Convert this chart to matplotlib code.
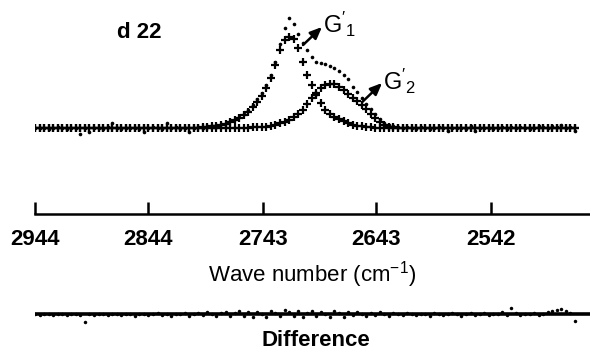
import numpy as np
import matplotlib.pyplot as plt

plt.rcParams["font.family"] = ["Liberation Sans", "DejaVu Sans"]
plt.rcParams["mathtext.fontset"] = "custom"
plt.rcParams["mathtext.rm"] = "Liberation Sans"
plt.rcParams["mathtext.it"] = "Liberation Sans"
plt.rcParams["mathtext.bf"] = "Liberation Sans:bold"

# Sampling grid of the spectrum (cm^-1), every 4 cm^-1
wave_number = np.arange(2944, 2464, -4)

# Measured spectrum (dots), arbitrary units
total = [
    0, 0.5, 0, -0.5, 0, 1, 0, -1, 0, 0.5, -6, 0, -4, 0.5, 0, -0.5, 1, 5, 0, -1,
    0, 0.5, 0, -1, -4, 0, 1, 0, -0.5, 5, 0, 1, -1, 0, -4, 0.5, 1, 0, 1.5, 2,
    3, 4, 5, 7, 9, 11, 14, 18, 23, 29, 35, 43, 53, 66, 84, 100, 110, 104, 94, 85,
    78, 71, 66, 65, 64, 62, 60, 57, 53, 49, 41, 36, 30, 24, 19, 14, 9, 5, 3, 2,
    1, 0.5, 1.5, 0, -0.5, 1, 0, -1, 0, 1.5, 0, -3, 0.5, 0, 0, -0.5, 2, -3, 0, 0.5,
    0, -0.5, 0, 1, -1, 1.5, 0, 1, 0.5, -1, 0, 2.5, 1, 0, 2, 1.5, 3, 0, 1, -3,
]

# Fitted band G'1 (crosses)
g1 = [
    0, 0, 0, 0, 0, 0, 0, 0, 0, 0, 0, 0, 0, 0, 0, 0, 0, 0, 0, 0,
    0, 0, 0, 0, 0, 0, 0, 0, 0, 0, 0, 0, 0, 0, 0, 0, 0.3, 0.6, 1.1, 1.7,
    2.4, 3.3, 4.5, 6, 8, 10, 13, 16.5, 21, 26, 32, 40, 50, 63, 78, 88, 91, 89, 80, 66,
    53, 43, 33, 25, 18, 14, 11, 9, 7, 5, 3.5, 2.5, 1.7, 1.1, 0.7, 0.4, 0.2, 0, 0, 0,
    0, 0, 0, 0, 0, 0, 0, 0, 0, 0, 0, 0, 0, 0, 0, 0, 0, 0, 0, 0,
    0, 0, 0, 0, 0, 0, 0, 0, 0, 0, 0, 0, 0, 0, 0, 0, 0, 0, 0, 0,
]

# Fitted band G'2 (crosses)
g2 = [
    0, 0, 0, 0, 0, 0, 0, 0, 0, 0, 0, 0, 0, 0, 0, 0, 0, 0, 0, 0,
    0, 0, 0, 0, 0, 0, 0, 0, 0, 0, 0, 0, 0, 0, 0, 0, 0, 0, 0, 0,
    0, 0, 0, 0, 0, 0.2, 0.3, 0.4, 0.6, 0.8, 1, 1.5, 2, 3, 5, 6.5, 8, 11, 14, 18,
    24, 30, 35, 40, 43, 44.5, 44, 41.5, 38, 34, 30.5, 27, 23.5, 19, 14, 10, 6.5, 3.5, 1.5, 0.7,
    0.3, 0, 0, 0, 0, 0, 0, 0, 0, 0, 0, 0, 0, 0, 0, 0, 0, 0, 0, 0,
    0, 0, 0, 0, 0, 0, 0, 0, 0, 0, 0, 0, 0, 0, 0, 0, 0, 0, 0, 0,
]

# Residual (measured - fit)
difference = [
    0.5, -0.5, 0, 0.5, -0.5, 0, 0.5, -1, 0, 0.5, -1, -8, 0, -0.5, 0.5, 0, -1, 0.5, 0, -1,
    0.5, 0, -1.5, 0, 0.5, -1, 0, 1, -0.5, 0, -1.5, 0.5, 0, 1, -2, 0.5, 1.5, -1, 2, 0,
    -2, 1.5, 2.5, -1.5, 1, 3, -2, 2, -2.5, 2.5, 0, -3, 3, 1, -2, 4, 2, -1.5, 3, -3,
    1.5, 3.5, -2, 2, 0.5, -2.5, 3, 1, -3, 2, -1, 2.5, 0, -2, 1.5, -1, 2, 0, -1.5, 1,
    0, -1, 1.5, 0, -1, 0.5, 0, -1.5, 1, 0, -1, 0.5, 1, 0, -1.5, 0.5, 1.5, -1, 0, 1,
    -1, 0.5, 0, 2, -0.5, 6, 1, -1, 0.5, 0, 1, -1, 0.5, 2, 3, 4, 5.5, 3, 1, -7,
]

tick_values = [2944, 2844, 2743, 2643, 2542]

fig = plt.figure(figsize=(5.9, 3.53), dpi=100)

# main spectrum panel
ax = fig.add_axes([35 / 590, (353 - 214) / 353, 555 / 590, 209 / 353])
ax.plot(wave_number, total, linestyle="none", marker="o", ms=2.6,
        color="black", mec="none")
ax.plot(wave_number, g1, linestyle="none", marker="+", ms=5.2, mew=1.6,
        color="black")
ax.plot(wave_number, g2, linestyle="none", marker="+", ms=5.2, mew=1.6,
        color="black")

ax.set_xlim(2944, 2454.7)
ax.set_ylim(-86, 123)
for side in ["left", "right", "top"]:
    ax.spines[side].set_visible(False)
ax.spines["bottom"].set_linewidth(1.8)
ax.set_yticks([])
ax.set_xticks(tick_values)
ax.set_xticklabels([str(v) for v in tick_values], fontsize=16,
                   fontweight="bold")
ax.tick_params(axis="x", direction="in", length=8.5, width=1.8, pad=11)
ax.set_xlabel(r"Wave number (cm$^{-1}$)", fontsize=16, labelpad=6)

ax.text(2872, 90, "d 22", fontsize=16, fontweight="bold")

arrow = dict(arrowstyle="-|>,head_length=0.7,head_width=0.3", color="black",
             lw=1.8, shrinkA=0, shrinkB=0)
ax.annotate("", xy=(2691, 101), xytext=(2707.7, 83), arrowprops=arrow)
ax.text(2690, 95, r"$\mathrm{G}'_1$", fontsize=17)
ax.annotate("", xy=(2638, 45), xytext=(2655.5, 26), arrowprops=arrow)
ax.text(2637, 38, r"$\mathrm{G}'_2$", fontsize=17)

# residual panel
ax2 = fig.add_axes([35 / 590, (353 - 334) / 353, 555 / 590, 40 / 353])
ax2.axhline(0, color="black", lw=2.6)
ax2.plot(wave_number, difference, linestyle="none", marker="o", ms=2.5,
         color="black", mec="none")
ax2.set_xlim(2944, 2454.7)
ax2.set_ylim(-20, 20)
ax2.axis("off")
fig.text(316 / 590, (353 - 341) / 353, "Difference", fontsize=16,
         fontweight="bold", ha="center", va="center")

fig.savefig("out.png", dpi=100)
